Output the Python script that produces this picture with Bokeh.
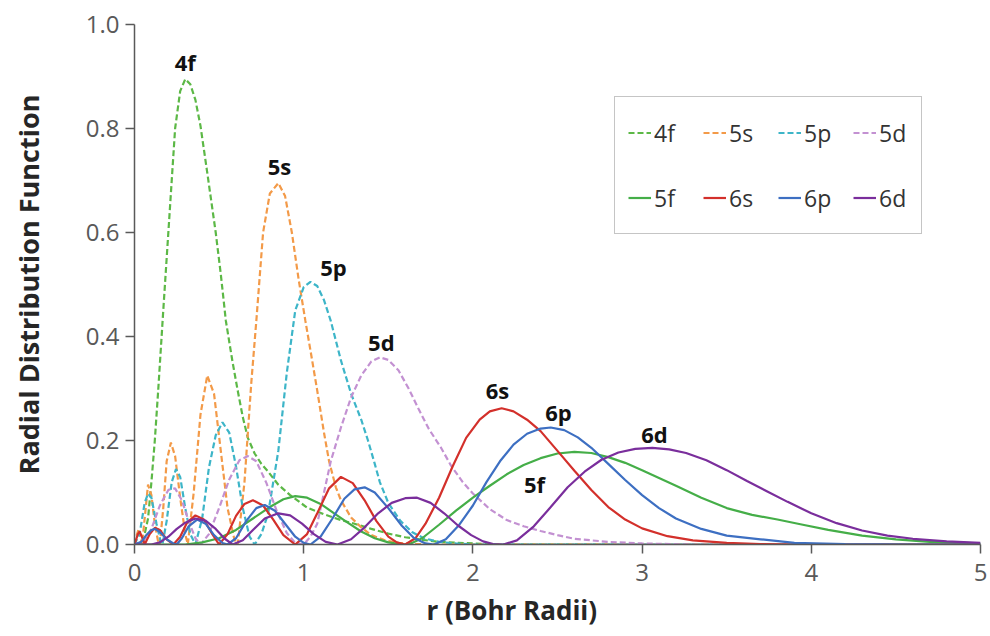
from bokeh.plotting import figure
from bokeh.models import Legend, LegendItem, FixedTicker, NumeralTickFormatter, Title, ColumnDataSource
from bokeh.core.properties import value
from bokeh.embed import file_html
from bokeh.resources import INLINE

# ---- data (r in Bohr radii, radial distribution) ----
r_4f = [0, 0.05, 0.08, 0.10, 0.12, 0.14, 0.17, 0.20, 0.22, 0.24, 0.27, 0.30, 0.33, 0.36, 0.39, 0.43, 0.48, 0.51,
        0.54, 0.58, 0.61, 0.64, 0.67, 0.71, 0.75, 0.79, 0.85, 0.92, 1.02, 1.12, 1.22, 1.30, 1.40, 1.50, 1.60, 1.70,
        1.80, 2.00, 2.20, 5.00]
v_4f = [0, 0.005, 0.05, 0.12, 0.20, 0.296, 0.45, 0.60, 0.70, 0.80, 0.872, 0.895, 0.885, 0.855, 0.805, 0.715, 0.60, 0.52,
        0.43, 0.35, 0.296, 0.245, 0.205, 0.175, 0.155, 0.14, 0.115, 0.095, 0.071, 0.058, 0.047, 0.04, 0.03, 0.021,
        0.014, 0.009, 0.005, 0.002, 0, 0]

r_5s = [0, 0.015, 0.025, 0.035, 0.045, 0.06, 0.08, 0.10, 0.12, 0.14, 0.15, 0.17, 0.19, 0.215, 0.24, 0.27, 0.30,
        0.315, 0.35, 0.39, 0.43, 0.47, 0.51, 0.55, 0.59, 0.61, 0.65, 0.69, 0.72, 0.76, 0.80, 0.85, 0.89, 0.93, 0.97,
        1.01, 1.05, 1.08, 1.12, 1.15, 1.19, 1.22, 1.28, 1.34, 1.40, 1.48, 1.56, 1.65, 1.80, 5.00]
v_5s = [0, 0.02, 0.03, 0.015, 0, 0.05, 0.115, 0.095, 0.04, 0.005, 0, 0.07, 0.16, 0.196, 0.17, 0.09, 0.02,
        0, 0.10, 0.25, 0.325, 0.29, 0.18, 0.07, 0.01, 0, 0.12, 0.31, 0.43, 0.60, 0.675, 0.695, 0.67, 0.60, 0.51,
        0.43, 0.354, 0.296, 0.215, 0.16, 0.11, 0.085, 0.052, 0.033, 0.018, 0.008, 0.003, 0.001, 0, 0]

r_5p = [0, 0.03, 0.06, 0.08, 0.10, 0.13, 0.155, 0.165, 0.19, 0.22, 0.245, 0.27, 0.30, 0.33, 0.36, 0.40, 0.44, 0.48,
        0.52, 0.56, 0.60, 0.64, 0.68, 0.71, 0.75, 0.79, 0.85, 0.90, 0.95, 1.00, 1.04, 1.08, 1.12, 1.16, 1.22, 1.28,
        1.34, 1.38, 1.42, 1.45, 1.50, 1.57, 1.64, 1.71, 1.80, 1.90, 2.00, 5.00]
v_5p = [0, 0.02, 0.08, 0.098, 0.09, 0.04, 0.005, 0, 0.045, 0.12, 0.145, 0.13, 0.07, 0.02, 0, 0.05, 0.148, 0.21,
        0.235, 0.215, 0.15, 0.07, 0.015, 0, 0.02, 0.06, 0.18, 0.33, 0.45, 0.495, 0.505, 0.497, 0.47, 0.43, 0.354, 0.29,
        0.24, 0.20, 0.155, 0.12, 0.08, 0.046, 0.024, 0.012, 0.005, 0.002, 0, 0]

r_5d = [0, 0.05, 0.10, 0.15, 0.20, 0.24, 0.28, 0.32, 0.36, 0.39, 0.44, 0.50, 0.56, 0.62, 0.67, 0.72, 0.78, 0.84,
        0.90, 0.95, 1.00, 1.04, 1.08, 1.12, 1.16, 1.22, 1.28, 1.34, 1.40, 1.45, 1.50, 1.56, 1.62, 1.68, 1.74, 1.81,
        1.87, 1.94, 2.00, 2.10, 2.20, 2.30, 2.40, 2.50, 2.60, 2.80, 3.00, 3.30, 5.00]
v_5d = [0, 0.005, 0.03, 0.075, 0.105, 0.108, 0.085, 0.045, 0.012, 0, 0.02, 0.07, 0.125, 0.162, 0.17, 0.16, 0.118,
        0.065, 0.022, 0.003, 0, 0.015, 0.04, 0.10, 0.16, 0.225, 0.283, 0.325, 0.352, 0.36, 0.355, 0.335, 0.30, 0.26,
        0.222, 0.187, 0.152, 0.12, 0.098, 0.068, 0.047, 0.035, 0.026, 0.018, 0.011, 0.005, 0.002, 0, 0]

r_5f = [0, 0.30, 0.40, 0.50, 0.60, 0.70, 0.80, 0.88, 0.95, 1.02, 1.10, 1.18, 1.26, 1.34, 1.42, 1.50, 1.58, 1.62,
        1.70, 1.80, 1.90, 2.00, 2.10, 2.20, 2.30, 2.40, 2.50, 2.60, 2.70, 2.80, 2.90, 3.00, 3.10, 3.20, 3.35, 3.50,
        3.65, 3.80, 3.95, 4.10, 4.30, 4.50, 4.70, 5.00]
v_5f = [0, 0, 0.004, 0.012, 0.028, 0.05, 0.072, 0.087, 0.093, 0.09, 0.078, 0.06, 0.042, 0.025, 0.012, 0.004, 0.0005, 0,
        0.012, 0.038, 0.065, 0.09, 0.113, 0.135, 0.153, 0.166, 0.175, 0.178, 0.176, 0.168, 0.157, 0.143, 0.128, 0.113,
        0.09, 0.07, 0.057, 0.048, 0.038, 0.028, 0.017, 0.01, 0.005, 0.002]

r_6s = [0, 0.02, 0.03, 0.05, 0.06, 0.09, 0.12, 0.15, 0.19, 0.23, 0.27, 0.31, 0.36, 0.41, 0.46, 0.50, 0.55, 0.60,
        0.65, 0.70, 0.76, 0.82, 0.88, 0.95, 1.02, 1.08, 1.15, 1.22, 1.29, 1.36, 1.43, 1.50, 1.55, 1.60, 1.66, 1.72,
        1.80, 1.88, 1.96, 2.04, 2.10, 2.17, 2.24, 2.32, 2.40, 2.50, 2.60, 2.70, 2.80, 2.90, 3.00, 3.15, 3.30, 3.50,
        3.70, 3.90, 5.00]
v_6s = [0, 0.02, 0.025, 0.01, 0, 0.02, 0.032, 0.028, 0.01, 0, 0.015, 0.042, 0.056, 0.048, 0.02, 0, 0.02, 0.055,
        0.078, 0.085, 0.075, 0.048, 0.018, 0, 0.02, 0.06, 0.108, 0.13, 0.118, 0.085, 0.045, 0.015, 0.004, 0, 0.012, 0.04,
        0.09, 0.15, 0.205, 0.24, 0.256, 0.262, 0.256, 0.24, 0.218, 0.18, 0.142, 0.105, 0.072, 0.048, 0.031, 0.016, 0.008,
        0.003, 0.001, 0, 0]

r_6p = [0, 0.04, 0.07, 0.10, 0.12, 0.15, 0.19, 0.23, 0.25, 0.28, 0.32, 0.37, 0.42, 0.47, 0.52, 0.55, 0.60, 0.66,
        0.72, 0.77, 0.83, 0.89, 0.95, 1.00, 1.04, 1.10, 1.17, 1.24, 1.30, 1.36, 1.42, 1.50, 1.58, 1.65, 1.72, 1.77,
        1.84, 1.92, 2.00, 2.08, 2.16, 2.24, 2.32, 2.40, 2.46, 2.54, 2.62, 2.70, 2.80, 2.90, 3.00, 3.10, 3.20, 3.35,
        3.50, 3.70, 3.90, 4.20, 4.60, 5.00]
v_6p = [0, 0.005, 0.018, 0.028, 0.03, 0.024, 0.01, 0.002, 0, 0.012, 0.035, 0.048, 0.04, 0.018, 0.003, 0, 0.012, 0.045,
        0.07, 0.076, 0.065, 0.04, 0.015, 0.003, 0, 0.015, 0.05, 0.088, 0.106, 0.11, 0.10, 0.07, 0.036, 0.013, 0.002, 0,
        0.01, 0.038, 0.075, 0.12, 0.16, 0.192, 0.213, 0.223, 0.225, 0.22, 0.206, 0.186, 0.155, 0.124, 0.095, 0.07, 0.05,
        0.03, 0.017, 0.01, 0.003, 0.001, 0, 0]

r_6d = [0, 0.10, 0.15, 0.20, 0.25, 0.30, 0.36, 0.42, 0.48, 0.53, 0.58, 0.64, 0.70, 0.77, 0.85, 0.92, 0.99, 1.06,
        1.13, 1.20, 1.28, 1.36, 1.44, 1.52, 1.60, 1.67, 1.75, 1.83, 1.91, 1.99, 2.06, 2.12, 2.18, 2.26, 2.36, 2.46,
        2.56, 2.66, 2.76, 2.86, 2.96, 3.06, 3.16, 3.26, 3.38, 3.50, 3.62, 3.74, 3.86, 4.00, 4.15, 4.30, 4.45, 4.60,
        4.80, 5.00]
v_6d = [0, 0, 0.004, 0.015, 0.03, 0.042, 0.05, 0.046, 0.03, 0.012, 0, 0.008, 0.028, 0.05, 0.06, 0.056, 0.04, 0.02,
        0.005, 0, 0.01, 0.033, 0.06, 0.08, 0.089, 0.09, 0.08, 0.06, 0.037, 0.018, 0.006, 0.001, 0, 0.008, 0.035, 0.072,
        0.11, 0.14, 0.163, 0.177, 0.184, 0.186, 0.183, 0.176, 0.162, 0.143, 0.122, 0.102, 0.082, 0.06, 0.041, 0.027,
        0.017, 0.011, 0.006, 0.003]

orbitals = ["4f", "5s", "5p", "5d", "5f", "6s", "6p", "6d"]
r_values = [r_4f, r_5s, r_5p, r_5d, r_5f, r_6s, r_6p, r_6d]
rdf_values = [v_4f, v_5s, v_5p, v_5d, v_5f, v_6s, v_6p, v_6d]

y_ticks = [0.0, 0.2, 0.4, 0.6, 0.8, 1.0]
x_ticks = [0, 1, 2, 3, 4, 5]

# curve-label positions (annotation placement)
label_x = [0.30, 0.857, 1.176, 1.459, 2.364, 2.145, 2.506, 3.073]
label_y = [0.927, 0.727, 0.533, 0.390, 0.117, 0.298, 0.254, 0.212]

colors = ["#5cb846", "#f39a48", "#3db5c8", "#c391d2", "#45ae48", "#d3302b", "#3d6fc2", "#7a2e9c"]
dashes = ["6 3", "6 3", "6 3", "6 3", "solid", "solid", "solid", "solid"]

FONT = "Open Sans"

p = figure(width=990, height=636, x_range=(0, 5), y_range=(0, 1.0),
           output_backend="svg", toolbar_location=None,
           min_border_left=134, min_border_right=10, min_border_top=24, min_border_bottom=92)
p.xgrid.visible = False
p.ygrid.visible = False
p.outline_line_color = None
p.background_fill_color = "white"
p.border_fill_color = "white"

renderers = []
for name, rs, vs, c, d in zip(orbitals, r_values, rdf_values, colors, dashes):
    src = ColumnDataSource(dict(r=rs, v=vs))
    rr = p.line("r", "v", source=src, line_color=c, line_width=2.2, line_dash=d)
    renderers.append(rr)

lab_src = ColumnDataSource(dict(x=label_x, y=label_y, t=orbitals))
p.text("x", "y", text="t", source=lab_src, text_font=value(FONT), text_font_style="bold",
       text_font_size="22px", text_align="center", text_baseline="middle", text_color="#111111")

for ax in (p.xaxis[0], p.yaxis[0]):
    ax.axis_line_color = "#595959"
    ax.axis_line_width = 1.5
    ax.major_tick_line_color = "#595959"
    ax.major_tick_line_width = 1.5
    ax.major_tick_out = 9
    ax.major_tick_in = 0
    ax.minor_tick_out = 0
    ax.minor_tick_in = 0
    ax.major_label_text_font = FONT
    ax.major_label_text_font_size = "24px"
    ax.major_label_text_color = "#595959"

p.yaxis.ticker = FixedTicker(ticks=y_ticks)
p.yaxis.formatter = NumeralTickFormatter(format="0.0")
p.xaxis.ticker = FixedTicker(ticks=x_ticks)
p.xaxis.formatter = NumeralTickFormatter(format="0")
p.yaxis.major_label_standoff = 6
p.xaxis.major_label_standoff = 10

p.yaxis.axis_label = "Radial Distribution Function"
p.yaxis.axis_label_text_font = FONT
p.yaxis.axis_label_text_font_style = "bold"
p.yaxis.axis_label_text_font_size = "27px"
p.yaxis.axis_label_text_color = "#262626"
p.yaxis.axis_label_standoff = 36

xtitle = Title(text="r (Bohr Radii)", align="left", offset=292, text_font=FONT, text_font_style="bold",
               text_font_size="26px", text_color="#262626", standoff=12)
p.add_layout(xtitle, "below")

# legend entries listed so that the 4-column grid reads row by row
order = [0, 4, 1, 5, 2, 6, 3, 7]
items = [LegendItem(label=orbitals[i], renderers=[renderers[i]]) for i in order]
legend = Legend(items=items, ncols=4, location=(480, 310))
legend.glyph_width = 23
legend.glyph_height = 45
legend.label_height = 45
legend.label_width = 29
legend.label_standoff = 3
legend.spacing = 20
legend.padding = 13
legend.margin = 0
legend.border_line_color = "#8c8c8c"
legend.border_line_width = 1.5
legend.background_fill_alpha = 1.0
legend.label_text_font = FONT
legend.label_text_font_size = "23px"
legend.label_text_color = "#333333"
p.add_layout(legend)

open("out.html", "w").write(file_html(p, INLINE))
